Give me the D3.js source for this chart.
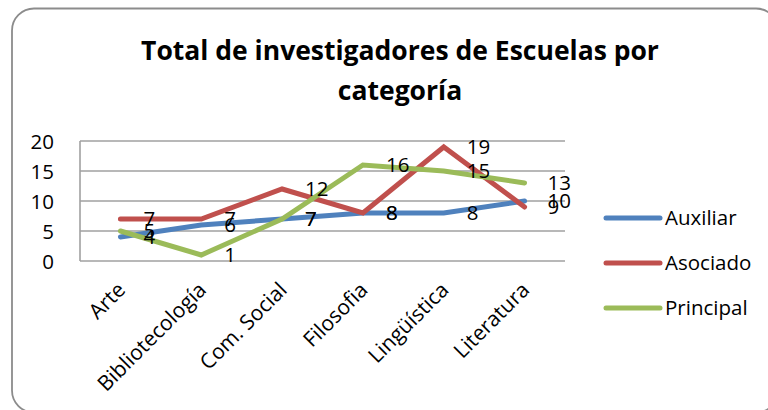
<!DOCTYPE html>
<html>
<head>
<meta charset="utf-8">
<script src="https://cdn.jsdelivr.net/npm/d3@7"></script>
<style>
  body { margin: 0; background: #fff; }
  svg { display: block; font-family: "Open Sans", sans-serif; }
</style>
</head>
<body>
<div id="chart"></div>
<script>
// datos del gráfico
const categories = ["Arte", "Bibliotecología", "Com. Social", "Filosofia", "Lingüística", "Literatura"];
const auxiliar = [4, 6, 7, 8, 8, 10];
const asociado = [7, 7, 12, 8, 19, 9];
const principal = [5, 1, 7, 16, 15, 13];
const seriesNames = ["Auxiliar", "Asociado", "Principal"];
const yTicks = [0, 5, 10, 15, 20];

const colors = ["#4f81bd", "#c0504d", "#9bbb59"];
const series = [auxiliar, asociado, principal];

const width = 768, height = 410;
const plot = { left: 80, right: 565, top: 141, bottom: 261 };

const svg = d3.select("#chart")
    .append("svg")
    .attr("width", width)
    .attr("height", height);

// marco redondeado
svg.append("rect")
    .attr("x", 12).attr("y", 8.5)
    .attr("width", 766).attr("height", 404)
    .attr("rx", 22)
    .attr("fill", "#fff")
    .attr("stroke", "#8c8c8c")
    .attr("stroke-width", 1.8);

// titulo
const title = svg.append("text")
    .attr("text-anchor", "middle")
    .attr("font-weight", "bold")
    .attr("font-size", 26.5)
    .attr("fill", "#000");
title.append("tspan").attr("x", 400).attr("y", 60).text("Total de investigadores de Escuelas por");
title.append("tspan").attr("x", 400).attr("y", 100).text("categoría");

const x = d3.scaleBand()
    .domain(categories)
    .range([plot.left, plot.right])
    .padding(0);

const y = d3.scaleLinear()
    .domain([0, 20])
    .range([plot.bottom, plot.top]);

const cx = d => x(d) + x.bandwidth() / 2;

// lineas de la cuadricula
svg.append("g")
    .selectAll("line")
    .data(yTicks)
    .join("line")
    .attr("x1", plot.left).attr("x2", plot.right)
    .attr("y1", d => y(d)).attr("y2", d => y(d))
    .attr("stroke", "#a0a0a0")
    .attr("stroke-width", 1.6);

svg.append("line")
    .attr("x1", plot.left).attr("x2", plot.left)
    .attr("y1", y(20)).attr("y2", y(0))
    .attr("stroke", "#a0a0a0")
    .attr("stroke-width", 1.6);

// eje y
const yAxis = svg.append("g")
    .attr("transform", `translate(${plot.left - 26},0)`)
    .call(d3.axisLeft(y).tickValues(yTicks).tickSize(0).tickPadding(0));
yAxis.select(".domain").remove();
yAxis.selectAll("text")
    .attr("font-size", 20.5)
    .attr("font-family", "Open Sans, sans-serif")
    .attr("fill", "#000")
    .attr("dy", "0.35em");

// eje x, etiquetas a 45 grados
svg.append("g")
    .selectAll("text")
    .data(categories)
    .join("text")
    .attr("text-anchor", "end")
    .attr("font-size", 21)
    .attr("fill", "#000")
    .attr("transform", d => `translate(${cx(d) + 1},${plot.bottom + 25}) rotate(-45)`)
    .attr("dy", "0.35em")
    .text(d => d);

// lineas
const line = d3.line()
    .x((d, i) => cx(categories[i]))
    .y(d => y(d));

svg.append("g")
    .selectAll("path")
    .data(series)
    .join("path")
    .attr("d", d => line(d))
    .attr("fill", "none")
    .attr("stroke", (d, i) => colors[i])
    .attr("stroke-width", 5)
    .attr("stroke-linecap", "round");

// etiquetas de datos
series.forEach((s, k) => {
    svg.append("g")
        .selectAll("text")
        .data(s)
        .join("text")
        .attr("x", (d, i) => cx(categories[i]) + 23)
        .attr("y", d => y(d))
        .attr("dy", "0.35em")
        .attr("font-size", 20.5)
        .attr("fill", "#000")
        .text(d => d);
});

// leyenda
const legend = svg.append("g")
    .selectAll("g")
    .data(seriesNames)
    .join("g")
    .attr("transform", (d, i) => `translate(606,${218 + i * 45})`);

legend.append("line")
    .attr("x1", 0).attr("x2", 54)
    .attr("stroke", (d, i) => colors[i])
    .attr("stroke-width", 5)
    .attr("stroke-linecap", "round");

legend.append("text")
    .attr("x", 59)
    .attr("dy", "0.35em")
    .attr("font-size", 20.5)
    .attr("fill", "#000")
    .text(d => d);
</script>
</body>
</html>
